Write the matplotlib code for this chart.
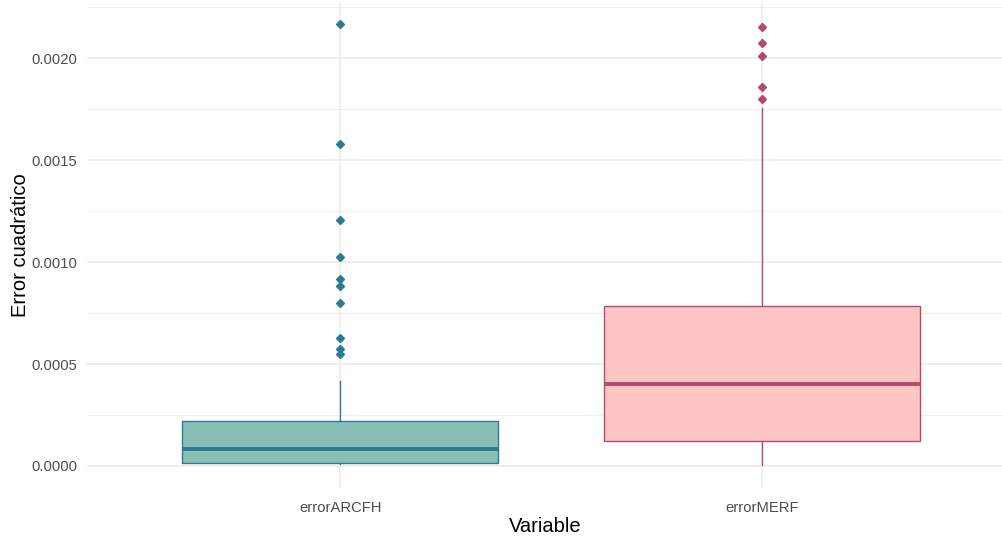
import matplotlib.pyplot as plt
from matplotlib.ticker import MultipleLocator

plt.rcParams['font.family'] = ['Liberation Sans', 'DejaVu Sans']

# values
categories = ['errorARCFH', 'errorMERF']
whislo = [0.000008, 0.000005]
q1 = [0.0000162, 0.000123]
med = [0.0000819, 0.000403]
q3 = [0.000222, 0.000784]
whishi = [0.000417, 0.001753]
outliers_arcfh = [0.002167, 0.001577, 0.001207, 0.001026, 0.000917, 0.000881,
                  0.000797, 0.000627, 0.000574, 0.000547]
outliers_merf = [0.002150, 0.002074, 0.002008, 0.001856, 0.001799]
outliers = [outliers_arcfh, outliers_merf]

fills = ['#8abfb5', '#fec5c5']
edges = ['#2b7c93', '#b44a6e']

fig = plt.figure(figsize=(10.03, 5.4), dpi=100)
ax = fig.add_axes([87 / 1003, 52 / 540, 916 / 1003, 486 / 540])

for i in range(len(categories)):
    st = [{'whislo': whislo[i], 'q1': q1[i], 'med': med[i], 'q3': q3[i],
           'whishi': whishi[i], 'fliers': outliers[i], 'label': categories[i]}]
    ax.bxp(st, positions=[i + 1], widths=0.75, patch_artist=True, showcaps=False,
           boxprops=dict(facecolor=fills[i], edgecolor=edges[i], linewidth=1),
           medianprops=dict(color=edges[i], linewidth=2.8),
           whiskerprops=dict(color=edges[i], linewidth=1),
           flierprops=dict(marker='D', markersize=4.2, markerfacecolor=edges[i],
                           markeredgecolor=edges[i]),
           zorder=3)

ax.set_xlim(0.4, 2.571)
ax.set_ylim(-0.000108, 0.002275)
ax.set_xticks([1, 2])
ax.set_xticklabels(categories)
ax.yaxis.set_major_locator(MultipleLocator(0.0005))
ax.yaxis.set_minor_locator(MultipleLocator(0.00025))
ax.yaxis.set_major_formatter(plt.FuncFormatter(lambda v, p: '%.4f' % v))

ax.grid(True, which='major', color='#ebebeb', linewidth=1.1, zorder=0)
ax.grid(True, which='minor', axis='y', color='#ebebeb', linewidth=0.6, zorder=0)
ax.set_axisbelow(True)
for s in ax.spines.values():
    s.set_visible(False)
ax.tick_params(which='both', length=0, labelsize=10.6, labelcolor='#4d4d4d')
ax.tick_params(axis='x', pad=9)
ax.tick_params(axis='y', pad=7)
ax.set_xlabel('Variable', fontsize=14.5, labelpad=2)
ax.set_ylabel('Error cuadrático', fontsize=14.5, labelpad=1)

fig.savefig('out.png', dpi=100)
